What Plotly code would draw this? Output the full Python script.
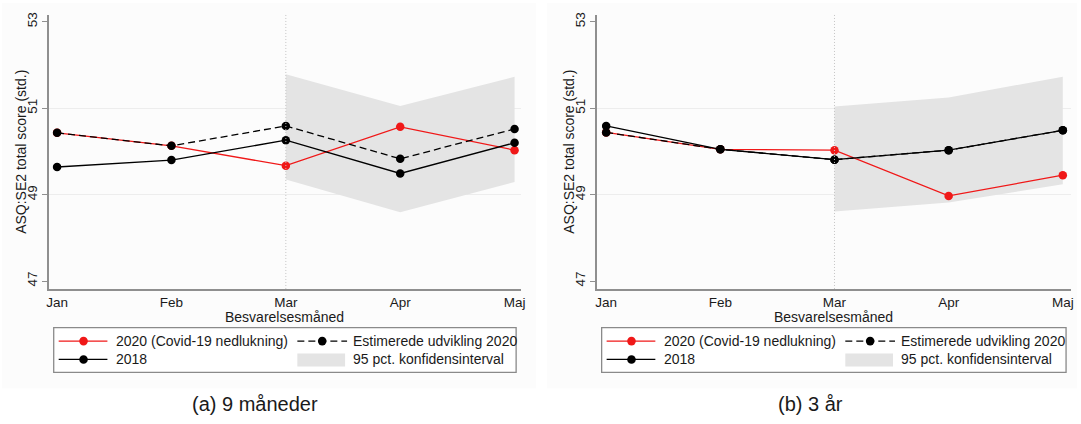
import plotly.graph_objects as go

# ---- data -------------------------------------------------------------
months = ["Jan", "Feb", "Mar", "Apr", "Maj"]
ci_months = ["Mar", "Apr", "Maj"]

# (a) 9 måneder
covid_9m = [50.43, 50.13, 49.67, 50.57, 50.03]
base_9m = [49.64, 49.80, 50.26, 49.49, 50.20]
est_9m = [50.43, 50.13, 50.59, 49.83, 50.52]
ci_lo_9m = [49.35, 48.59, 49.29]
ci_hi_9m = [51.79, 51.05, 51.73]

# (b) 3 år
covid_3y = [50.44, 50.05, 50.03, 48.97, 49.45]
base_3y = [50.59, 50.05, 49.81, 50.03, 50.49]
est_3y = [50.44, 50.05, 49.81, 50.03, 50.49]
ci_lo_3y = [48.61, 48.82, 49.24]
ci_hi_3y = [51.04, 51.25, 51.73]

y_ticks = [47, 49, 51, 53]
y_grid = [49, 51]
panel_titles = ["(a) 9 måneder", "(b) 3 år"]
legend_labels = ["2020 (Covid-19 nedlukning)", "Estimerede udvikling 2020",
                 "2018", "95 pct. konfidensinterval"]
x_title = "Besvarelsesmåned"
y_title = "ASQ:SE2 total score (std.)"

# ---- styling ----------------------------------------------------------
W, H = 1081, 424
FONT = "Arial, Liberation Sans, sans-serif"
RED = "#f01818"
BLACK = "#000000"
CI_FILL = "#e4e4e4"
AXIS = "#8f8f8f"
TXT = "#1a1a1a"


def px(x):
    return x / W


def py(y):
    return 1 - y / H


# plot-area pixel boxes (left, right) and shared top/bottom
panels = [
    dict(left=47, right=522, xr=[-0.073, 4.057], cap_x=254,
         data=(covid_9m, base_9m, est_9m, ci_lo_9m, ci_hi_9m)),
    dict(left=598, right=1075, xr=[-0.083, 4.072], cap_x=813,
         data=(covid_3y, base_3y, est_3y, ci_lo_3y, ci_hi_3y)),
]
TOP, BOTTOM = 12, 288
Y_RANGE = [46.816, 53.161]

fig = go.Figure()
shapes = []
annotations = []

# faint panel backgrounds
shapes.append(dict(type="rect", xref="paper", yref="paper", layer="below",
                   x0=px(0), x1=px(537), y0=py(388), y1=py(0),
                   fillcolor="#fcfcfc", line=dict(width=0)))
shapes.append(dict(type="rect", xref="paper", yref="paper", layer="below",
                   x0=px(548), x1=px(1081), y0=py(388), y1=py(0),
                   fillcolor="#fcfcfc", line=dict(width=0)))

for i, p in enumerate(panels):
    n = "" if i == 0 else str(i + 1)
    xa, ya = "x" + n, "y" + n
    covid, base, est, lo, hi = p["data"]

    # confidence band
    fig.add_trace(go.Scatter(x=ci_months, y=lo, xaxis=xa, yaxis=ya, mode="lines",
                             line=dict(width=0, color=CI_FILL), showlegend=False,
                             hoverinfo="skip"))
    fig.add_trace(go.Scatter(x=ci_months, y=hi, xaxis=xa, yaxis=ya, mode="lines",
                             line=dict(width=0, color=CI_FILL), fill="tonexty",
                             fillcolor=CI_FILL, showlegend=False, hoverinfo="skip"))
    # 2020
    fig.add_trace(go.Scatter(x=months, y=covid, xaxis=xa, yaxis=ya,
                             mode="lines+markers", showlegend=False,
                             line=dict(color=RED, width=1.3),
                             marker=dict(color=RED, size=8.5)))
    # 2018
    fig.add_trace(go.Scatter(x=months, y=base, xaxis=xa, yaxis=ya,
                             mode="lines+markers", showlegend=False,
                             line=dict(color=BLACK, width=1.3),
                             marker=dict(color=BLACK, size=8.5)))
    # estimated development
    fig.add_trace(go.Scatter(x=months, y=est, xaxis=xa, yaxis=ya,
                             mode="lines+markers", showlegend=False,
                             line=dict(color=BLACK, width=1.3, dash="7px,4px"),
                             marker=dict(color=BLACK, size=8.5)))

    dom_x = [px(p["left"]), px(p["right"])]
    dom_y = [py(BOTTOM), py(TOP)]
    fig.update_layout(**{
        "xaxis" + n: dict(domain=dom_x, range=p["xr"], type="category",
                          categoryorder="array", categoryarray=months,
                          showline=True, linecolor=AXIS, linewidth=1.5,
                          showgrid=False, zeroline=False, ticks="",
                          tickfont=dict(family=FONT, size=13.5, color=TXT),
                          anchor=ya, fixedrange=True),
        "yaxis" + n: dict(domain=dom_y, range=Y_RANGE, tickvals=y_ticks,
                          showline=True, linecolor=AXIS, linewidth=1.5,
                          showgrid=False, zeroline=False,
                          ticks="outside", ticklen=5, tickcolor=AXIS, tickwidth=1,
                          tickangle=-90,
                          tickfont=dict(family=FONT, size=13.5, color=TXT),
                          minor=dict(tickvals=y_grid, showgrid=True,
                                     gridcolor="#ededed", gridwidth=1, ticks=""),
                          anchor=xa, fixedrange=True),
    })

    # dotted marker at lockdown month
    shapes.append(dict(type="line", xref=xa, yref=ya + " domain", x0="Mar", x1="Mar",
                       y0=0, y1=1, line=dict(color="#c4c4c4", width=1, dash="1px,2px")))

    # axis titles
    annotations.append(dict(text=x_title, xref=xa + " domain", yref="paper", x=0.5,
                            y=py(316.5), xanchor="center", yanchor="middle",
                            showarrow=False,
                            font=dict(family=FONT, size=14, color=TXT)))
    annotations.append(dict(text=y_title, xref="paper", yref=ya + " domain",
                            x=px(p["left"] - 28), y=0.5, textangle=-90,
                            xanchor="center", yanchor="middle", showarrow=False,
                            font=dict(family=FONT, size=14, color=TXT)))
    # caption
    annotations.append(dict(text=panel_titles[i], xref="paper", yref="paper",
                            x=px(p["cap_x"]), y=py(404),
                            xanchor="center", yanchor="middle", showarrow=False,
                            font=dict(family=FONT, size=20, color=TXT)))

    # legend box
    ox = p["left"]
    shapes.append(dict(type="rect", xref="paper", yref="paper",
                       x0=px(ox + 5), x1=px(p["right"] - 5), y0=py(372), y1=py(327),
                       fillcolor="white", line=dict(color="#8a8a8a", width=1.3)))
    r1, r2 = 340.5, 359
    # col 1 symbols
    for yy, col in ((r1, RED), (r2, BLACK)):
        shapes.append(dict(type="line", xref="paper", yref="paper",
                           x0=px(ox + 10), x1=px(ox + 59), y0=py(yy), y1=py(yy),
                           line=dict(color=col, width=1.3)))
        shapes.append(dict(type="circle", xref="paper", yref="paper",
                           xsizemode="pixel", ysizemode="pixel",
                           xanchor=px(ox + 35), yanchor=py(yy),
                           x0=-4.3, x1=4.3, y0=-4.3, y1=4.3,
                           fillcolor=col, line=dict(color=col, width=0)))
    # col 2 symbols
    shapes.append(dict(type="line", xref="paper", yref="paper",
                       x0=px(ox + 250), x1=px(ox + 300), y0=py(r1), y1=py(r1),
                       line=dict(color=BLACK, width=1.3, dash="7px,4px")))
    shapes.append(dict(type="circle", xref="paper", yref="paper",
                       xsizemode="pixel", ysizemode="pixel",
                       xanchor=px(ox + 275), yanchor=py(r1),
                       x0=-4.3, x1=4.3, y0=-4.3, y1=4.3,
                       fillcolor=BLACK, line=dict(color=BLACK, width=0)))
    shapes.append(dict(type="rect", xref="paper", yref="paper",
                       x0=px(ox + 250), x1=px(ox + 298), y0=py(366), y1=py(353),
                       fillcolor=CI_FILL, line=dict(width=0)))
    for txt, xx, yy in ((legend_labels[0], ox + 66, r1), (legend_labels[2], ox + 66, r2),
                        (legend_labels[1], ox + 304, r1), (legend_labels[3], ox + 304, r2)):
        annotations.append(dict(text=txt, xref="paper", yref="paper", x=px(xx), y=py(yy),
                                xanchor="left", yanchor="middle", showarrow=False,
                                font=dict(family=FONT, size=14, color=TXT)))

fig.update_layout(width=W, height=H, margin=dict(l=0, r=0, t=0, b=0),
                  paper_bgcolor="white", plot_bgcolor="rgba(0,0,0,0)",
                  showlegend=False, shapes=shapes, annotations=annotations)

fig.write_html("out.html")
